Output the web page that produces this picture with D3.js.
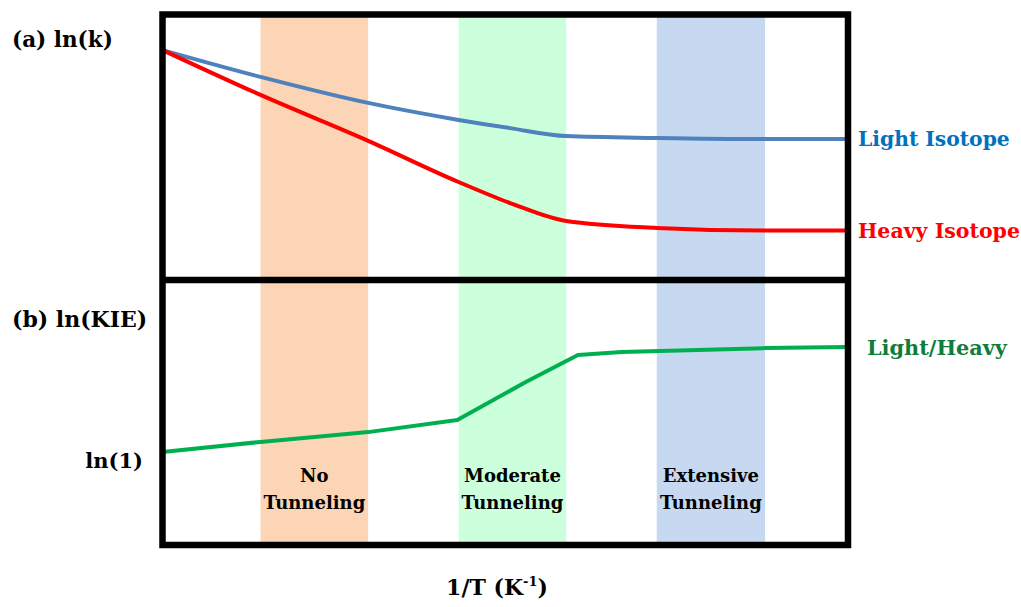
<!DOCTYPE html>
<html>
<head>
<meta charset="utf-8">
<script src="https://cdn.jsdelivr.net/npm/d3@7"></script>
<style>
  body { margin: 0; background: #fff; }
  text { font-family: "DejaVu Serif", serif; font-weight: bold; }
</style>
</head>
<body>
<svg id="chart" width="1021" height="607"></svg>
<script>
/// data ///
// x = 1/T (arbitrary units, 0..1), y = ln values (arbitrary units, 0..10 per panel)
const lightX = [0, 0.143, 0.30, 0.432, 0.507, 0.589, 0.721, 0.879, 1.0];
const lightY = [8.66, 7.65, 6.67, 6.03, 5.72, 5.42, 5.35, 5.31, 5.31];
const heavyX = [0, 0.143, 0.30, 0.432, 0.507, 0.589, 0.721, 0.879, 1.0];
const heavyY = [8.66, 6.97, 5.24, 3.69, 2.90, 2.22, 1.96, 1.86, 1.86];
const kieX = [0, 0.143, 0.30, 0.43, 0.53, 0.606, 0.67, 0.879, 1.0];
const kieY = [3.51, 3.89, 4.26, 4.72, 6.15, 7.17, 7.28, 7.43, 7.47];

const bandNames = [["No", "Tunneling"], ["Moderate", "Tunneling"], ["Extensive", "Tunneling"]];
const bandStart = [0.143, 0.432, 0.721];
const bandEnd = [0.300, 0.589, 0.879];
const bandColours = ["#fbd5b5", "#ccffdc", "#c6d9f1"];

/// constants ///
const box = {left: 162.5, right: 848, top: 14.5, mid: 280, bottom: 545};
const lineWidth = 4;

const svg = d3.select("#chart");

/// scales ///
const xScale = d3.scaleLinear().domain([0, 1]).range([box.left, box.right]);
const yTop = d3.scaleLinear().domain([0, 10]).range([box.mid, box.top]);
const yBottom = d3.scaleLinear().domain([0, 10]).range([box.bottom, box.mid]);

// shaded regimes behind everything
svg.append("g")
  .selectAll("rect")
  .data(bandStart)
  .join("rect")
    .attr("x", (d, i) => xScale(d))
    .attr("width", (d, i) => xScale(bandEnd[i]) - xScale(d))
    .attr("y", box.top)
    .attr("height", box.bottom - box.top)
    .attr("fill", (d, i) => bandColours[i]);

// band labels
const bandText = svg.append("g")
  .selectAll("text")
  .data(bandNames)
  .join("text")
    .attr("text-anchor", "middle")
    .attr("font-size", "18px")
    .attr("fill", "#000");
bandText.selectAll("tspan")
  .data((d, i) => d.map(s => ({s, x: xScale((bandStart[i] + bandEnd[i]) / 2)})))
  .join("tspan")
    .attr("x", d => d.x)
    .attr("y", (d, j) => 482 + j * 27)
    .text(d => d.s);

/// lines ///
const zip = (xs, ys) => xs.map((x, i) => [x, ys[i]]);
const lineTop = d3.line().x(d => xScale(d[0])).y(d => yTop(d[1])).curve(d3.curveMonotoneX);
// the ratio curve has sharper elbows
const lineBottom = d3.line().x(d => xScale(d[0])).y(d => yBottom(d[1])).curve(d3.curveLinear);

svg.append("path")
  .attr("d", lineTop(zip(lightX, lightY)))
  .attr("fill", "none").attr("stroke", "#4f81bd").attr("stroke-width", lineWidth)
  .attr("stroke-linecap", "round");
svg.append("path")
  .attr("d", lineTop(zip(heavyX, heavyY)))
  .attr("fill", "none").attr("stroke", "#ff0000").attr("stroke-width", lineWidth)
  .attr("stroke-linecap", "round");
svg.append("path")
  .attr("d", lineBottom(zip(kieX, kieY)))
  .attr("fill", "none").attr("stroke", "#00b050").attr("stroke-width", lineWidth)
  .attr("stroke-linecap", "round").attr("stroke-linejoin", "round");

/// frame ///
svg.append("rect")
  .attr("x", box.left).attr("y", box.top)
  .attr("width", box.right - box.left).attr("height", box.bottom - box.top)
  .attr("fill", "none").attr("stroke", "#000").attr("stroke-width", 6.5);
svg.append("line")
  .attr("x1", box.left).attr("x2", box.right)
  .attr("y1", box.mid).attr("y2", box.mid)
  .attr("stroke", "#000").attr("stroke-width", 6.5);

/// labels ///
const label = (x, y, txt, colour, anchor = "start", size = 20) =>
  svg.append("text")
    .attr("x", x).attr("y", y)
    .attr("fill", colour)
    .attr("font-size", size + "px")
    .attr("text-anchor", anchor)
    .text(txt);

label(12, 47, "(a) ln(k)", "#000", "start", 21.5);
label(12, 327, "(b) ln(KIE)", "#000", "start", 22);
label(143, 468, "ln(1)", "#000", "end", 21);

// series names at the right end of each line
label(858, yTop(lightY[lightY.length - 1]) + 7, "Light Isotope", "#0070c0", "start", 20.3);
label(858, yTop(heavyY[heavyY.length - 1]) + 7, "Heavy Isotope", "#ff0000", "start", 20.5);
label(867, yBottom(kieY[kieY.length - 1]) + 8, "Light/Heavy", "#0e7c3a", "start", 20.8);

// x-axis title with superscript
const xTitle = svg.append("text")
  .attr("x", 497).attr("y", 595)
  .attr("text-anchor", "middle")
  .attr("font-size", "22px")
  .attr("fill", "#000");
xTitle.append("tspan").text("1/T (K");
xTitle.append("tspan").attr("dy", -9).attr("font-size", "13px").text("-1");
xTitle.append("tspan").attr("dy", 9).text(")");
</script>
</body>
</html>
